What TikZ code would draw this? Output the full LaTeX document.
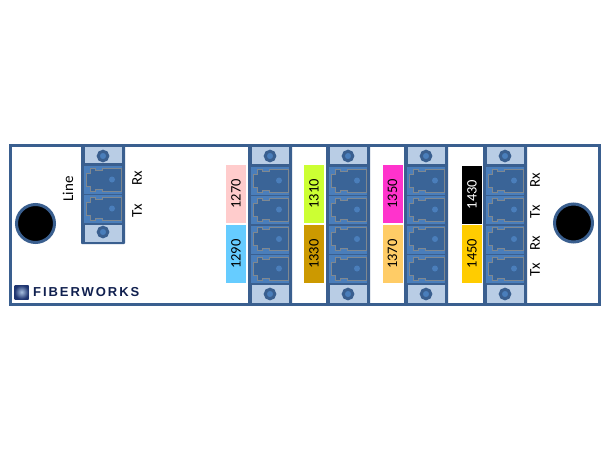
\documentclass[tikz,border=0pt]{standalone}
\usepackage{fontspec}
\setmainfont{Carlito}
\newfontfamily\logofont[LetterSpace=15]{Liberation Sans}
\definecolor{frameblue}{HTML}{3A5F8F}
\definecolor{tabblue}{HTML}{B9CDE5}
\definecolor{portblue}{HTML}{4A7EBB}
\definecolor{plugblue}{HTML}{3A6497}
\definecolor{pluggray}{HTML}{7F8890}
\definecolor{logonavy}{HTML}{10204F}
\definecolor{logolight}{HTML}{A8C0E0}
\definecolor{logoedge}{HTML}{1F3570}
\tikzset{
  panelbox/.style={draw=frameblue,line width=3pt,fill=white,rectangle,inner sep=0pt,outer sep=0pt},
  modulebox/.style={fill=frameblue,rectangle,inner sep=0pt,outer sep=0pt,rounded corners=1pt,minimum width=44pt},
  tabbox/.style={fill=tabblue,rectangle,inner sep=0pt,outer sep=0pt,minimum width=37pt},
  screwhole/.style={circle,draw=frameblue,line width=3pt,fill=portblue,minimum size=9.5pt,inner sep=0pt},
  blackhole/.style={circle,draw=frameblue,line width=3pt,fill=black,minimum size=38pt,inner sep=0pt},
  wavebox/.style={rectangle,inner sep=0pt,outer sep=0pt,rotate=90,minimum width=58pt,minimum height=20pt,font=\fontsize{14.5}{15}\selectfont},
  sidelabel/.style={rotate=90,inner sep=0pt,font=\fontsize{15}{16}\selectfont},
  port/.pic={
    \fill[portblue] (0,0) rectangle (38,28);
    \draw[pluggray,fill=plugblue,line width=0.5pt] (37,2) -- (18,2) -- (18,4) -- (11,4) -- (11,2) -- (6,2) -- (6,7)
      -- (2,7) -- (2,20) -- (6,20) -- (6,25) -- (11,25) -- (11,23) -- (18,23) -- (18,25) -- (37,25) -- cycle;
    \fill[portblue] (28,13.5) circle (3);
  }
}
\begin{document}
\begin{tikzpicture}[x=1pt,y=-1pt]
  \useasboundingbox (0,0) rectangle (610,450);
  \node[panelbox,minimum width=589pt,minimum height=159pt] (panel) at (305,225) {};
  % line module
  \node[modulebox,minimum height=99pt] (line) at (103,194.5) {};
  \node[tabbox,minimum height=16pt] (linetop) at (103,155) {};
  \node[tabbox,minimum height=17pt] (linebot) at (103,233.5) {};
  \node[screwhole] (linescrewa) at (103,156) {};
  \node[screwhole] (linescrewb) at (103,232) {};
  \pic at (84,166) {port};
  \pic at (84,195) {port};
  % channel modules
  \foreach \mx/\mn in {270/a,348/b,426/c,505/d} {
    \node[modulebox,minimum height=160pt] (mod\mn) at (\mx,225) {};
    \node[tabbox,minimum height=17pt] (top\mn) at (\mx,155.5) {};
    \node[tabbox,minimum height=18pt] (bot\mn) at (\mx,294) {};
    \node[screwhole] (screwa\mn) at (\mx,156) {};
    \node[screwhole] (screwb\mn) at (\mx,294) {};
    \foreach \py in {167,196,225.5,255}
      \pic at (\mx-19,\py) {port};
  }
  % wavelengths
  \node[wavebox,fill={rgb,255:red,255;green,204;blue,204}] (w1270) at (236,194) {1270};
  \node[wavebox,fill={rgb,255:red,102;green,204;blue,255}] (w1290) at (236,254) {1290};
  \node[wavebox,fill={rgb,255:red,204;green,255;blue,51}] (w1310) at (314,194) {1310};
  \node[wavebox,fill={rgb,255:red,204;green,153;blue,0}] (w1330) at (314,254) {1330};
  \node[wavebox,fill={rgb,255:red,255;green,51;blue,204}] (w1350) at (392.5,194) {1350};
  \node[wavebox,fill={rgb,255:red,255;green,204;blue,102}] (w1370) at (392.5,254) {1370};
  \node[wavebox,fill=black,text=white] (w1430) at (472,194.5) {1430};
  \node[wavebox,fill={rgb,255:red,255;green,204;blue,0}] (w1450) at (472,253.5) {1450};
  % side labels
  \node[sidelabel] (lineline) at (68,189) {Line};
  \node[sidelabel] (linerx) at (137,178) {Rx};
  \node[sidelabel] (linetx) at (137,211) {Tx};
  \node[sidelabel] (rxa) at (535,180) {Rx};
  \node[sidelabel] (txa) at (535,212) {Tx};
  \node[sidelabel] (rxb) at (535,243) {Rx};
  \node[sidelabel] (txb) at (535,270) {Tx};
  % holes
  \node[blackhole] (holeleft) at (35.5,223.5) {};
  \node[blackhole] (holeright) at (573.5,223) {};
  % logo
  \node[rectangle,minimum size=14pt,inner sep=0pt,inner color=logolight,outer color=logoedge] (logomark) at (21.5,292) {};
  \node[right=0pt,inner sep=0pt,text=logonavy,font=\logofont\bfseries\fontsize{13}{14}\selectfont] (logotext) at (33,292.5) {FIBERWORKS};
\end{tikzpicture}
\end{document}
